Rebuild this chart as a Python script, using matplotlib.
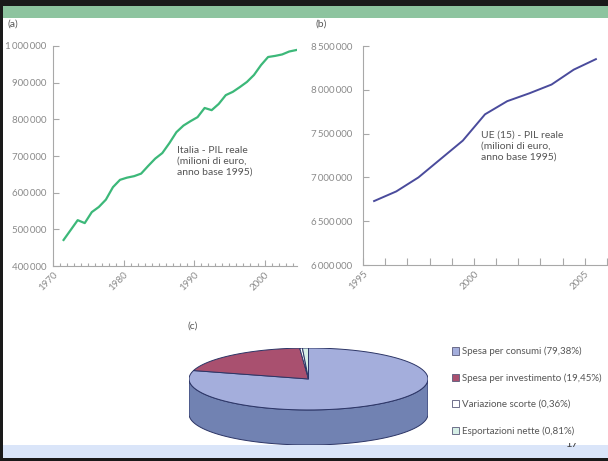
import matplotlib.pyplot as plt
import numpy as np
from matplotlib.patches import Polygon, Rectangle
from matplotlib.ticker import FuncFormatter, MultipleLocator

plt.rcParams['font.family'] = ['Lato', 'DejaVu Sans']

# (a) Italia - PIL reale, milioni di euro (anno base 1995)
ita_anni = list(range(1971, 2005))
ita_pil = [471000, 498000, 525000, 517000, 547000, 561000, 581000, 615000, 635000, 641000,
           645000, 652000, 673000, 693000, 708000, 735000, 765000, 783000, 795000, 806000,
           831000, 825000, 842000, 866000, 875000, 888000, 902000, 921000, 948000, 970000,
           973000, 977000, 985000, 989000]

# (b) UE (15) - PIL reale, milioni di euro (anno base 1995)
ue_anni = list(range(1995, 2006))
ue_pil = [6730000, 6840000, 7000000, 7210000, 7420000, 7720000,
          7870000, 7960000, 8060000, 8230000, 8350000]

# (c) composizione della domanda
voci = ['Spesa per consumi', 'Spesa per investimento',
        'Variazione scorte', 'Esportazioni nette']
quote = [79.38, 19.45, 0.36, 0.81]
col_top = ['#a4aedc', '#a9506f', '#ffffff', '#d6efe6']
col_side = ['#7182b2', '#7d3450', '#d0d0d0', '#a8c8bc']

W, H = 608, 461
fig = plt.figure(figsize=(W / 100, H / 100), dpi=100)


def box(x0, y0, x1, y1):
    # pixel box (top-left origin) -> figure fraction rect
    return [x0 / W, 1 - y1 / H, (x1 - x0) / W, (y1 - y0) / H]


def px(x, y):
    return x / W, 1 - y / H


# slide frame
for (x0, y0, x1, y1), c in [((0, 0, W, 6), '#1a1a1a'), ((0, 6, W, 18), '#8dc49f'),
                            ((0, 0, 3, H), '#1a1a1a'), ((0, 458, W, H), '#1a1a1a')]:
    fig.patches.append(Rectangle(px(x0, y1), (x1 - x0) / W, (y1 - y0) / H,
                                 transform=fig.transFigure, fc=c, ec='none', zorder=0))
fig.patches.append(Rectangle(px(3, 458), (W - 3) / W, 13 / H, transform=fig.transFigure,
                             fc='#dae5f9', ec='none', zorder=0))
# page number, top half hidden
num = fig.text(*px(565, 443), '17', fontsize=8, color='#444444', va='center')
num.set_clip_path(Rectangle(px(3, 458), (W - 3) / W, 15 / H, transform=fig.transFigure))

grigio = '#a8a8a8'
spazi = FuncFormatter(lambda v, _: f'{int(v):,}'.replace(',', '\u2009'))


def stile(ax):
    for s in ('top', 'right'):
        ax.spines[s].set_visible(False)
    for s in ('left', 'bottom'):
        ax.spines[s].set_color(grigio)
        ax.spines[s].set_linewidth(0.8)
    ax.tick_params(which='both', direction='in', color=grigio, labelcolor='#8a8a8a',
                   labelsize=7, width=0.8)
    ax.yaxis.set_major_formatter(spazi)
    ax.patch.set_alpha(0)


# (a)
ax_a = fig.add_axes(box(53, 46, 297, 266))
ax_a.plot(np.array(ita_anni) + 0.5, ita_pil, color='#3cb879', lw=1.6)
ax_a.set_xlim(1970, 2004.6)
ax_a.set_ylim(400000, 1000000)
ax_a.xaxis.set_major_locator(MultipleLocator(10))
ax_a.xaxis.set_minor_locator(MultipleLocator(1))
ax_a.yaxis.set_major_locator(MultipleLocator(100000))
stile(ax_a)
ax_a.tick_params(axis='x', which='major', length=4, pad=3)
ax_a.tick_params(axis='x', which='minor', length=2.5)
ax_a.tick_params(axis='y', length=4, pad=5)
plt.setp(ax_a.get_xticklabels(), rotation=45, ha='right', rotation_mode='anchor')

# (b)
ax_b = fig.add_axes(box(363, 46, 607, 265))
ax_b.plot(np.array(ue_anni) + 0.5, ue_pil, color='#4a4b9c', lw=1.4)
ax_b.set_xlim(1995, 2006)
ax_b.set_ylim(6000000, 8500000)
ax_b.xaxis.set_major_locator(MultipleLocator(5))
ax_b.xaxis.set_minor_locator(MultipleLocator(1))
ax_b.yaxis.set_major_locator(MultipleLocator(500000))
stile(ax_b)
ax_b.tick_params(axis='x', which='both', length=5, pad=3)
ax_b.tick_params(axis='y', length=4, pad=8)
plt.setp(ax_b.get_xticklabels(), rotation=45, ha='right', rotation_mode='anchor')

testo = dict(fontsize=7.5, color='#555555', va='top', linespacing=1.25)
fig.text(*px(7, 20), '(a)', fontsize=7.5, color='#555555', va='top')
fig.text(*px(316, 20), '(b)', fontsize=7.5, color='#555555', va='top')
fig.text(*px(188, 322), '(c)', fontsize=7.5, color='#555555', va='top')
fig.text(*px(177, 146), 'Italia - PIL reale\n(milioni di euro,\nanno base 1995)', **testo)
fig.text(*px(481, 131), 'UE (15) - PIL reale\n(milioni di euro,\nanno base 1995)', **testo)

# (c) torta 3D: ellisse superiore di semiassi 1 e B, spessore D
B, D = 0.259, 0.293
ax_c = fig.add_axes(box(189, 348, 428, 445))
ax_c.set_xlim(-1, 1)
ax_c.set_ylim(-B - D, B)
ax_c.axis('off')


def arco(t0, t1, dz=0.0, n=80):
    t = np.radians(np.linspace(t0, t1, n))
    return np.column_stack([np.sin(t), B * np.cos(t) - dz])


gradi = 360 * np.array(quote) / sum(quote)
inizi = np.concatenate([[0], np.cumsum(gradi)[:-1]])
bordo = dict(ec='#2c3566', lw=0.7)
for s, g, cs in zip(inizi, gradi, col_side):
    lo, hi = max(s, 90), min(s + g, 270)
    if hi > lo:
        pts = np.vstack([arco(lo, hi), arco(hi, lo, dz=D)])
        ax_c.add_patch(Polygon(pts, closed=True, fc=cs, **bordo))
for s, g, ct in zip(inizi, gradi, col_top):
    pts = np.vstack([[0, 0], arco(s, s + g)])
    ax_c.add_patch(Polygon(pts, closed=True, fc=ct, **bordo))

maniglie = [Rectangle((0, 0), 1, 1, fc=c, ec='#5a5a7a', lw=0.6) for c in col_top]
etichette = [f'{v} ({q:.2f}%)'.replace('.', ',') for v, q in zip(voci, quote)]
fig.legend(maniglie, etichette, loc='upper left', bbox_to_anchor=px(447, 342),
           frameon=False, fontsize=7, labelcolor='#555555', handlelength=0.75,
           handleheight=0.75, handletextpad=0.3, labelspacing=1.75, borderpad=0)

fig.savefig('out.png', dpi=100)
